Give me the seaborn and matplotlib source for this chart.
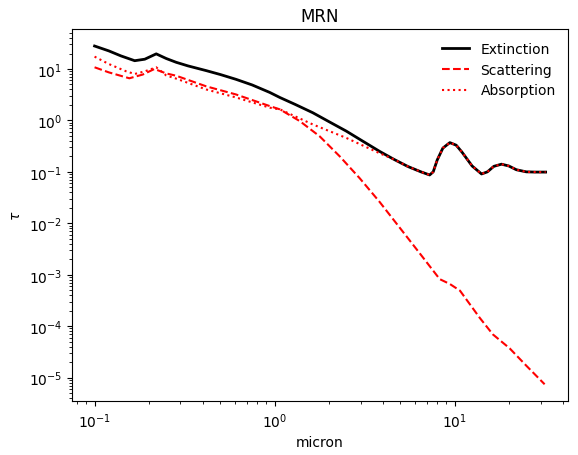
import numpy as np
import pandas as pd
import matplotlib
matplotlib.use("Agg")
import matplotlib.pyplot as plt
import seaborn as sns

# optical depth curves (micron vs tau)
ext_x = [0.1, 0.12, 0.14, 0.167, 0.19, 0.22, 0.25, 0.284, 0.33, 0.417, 0.5, 0.61, 0.75,
         0.94, 1.07, 1.3, 1.63, 2.0, 2.5, 3.0, 3.83, 4.6, 5.5, 6.5, 7.26, 7.6, 8.0, 8.6,
         9.4, 10.2, 11.0, 12.5, 14.1, 15.2, 16.5, 18.2, 20, 22, 25, 28, 32]
ext_y = [28, 22.5, 18, 14.5, 15.5, 19.7, 16, 13.5, 11.5, 9.3, 7.8, 6.3, 4.9,
         3.5, 2.79, 2.05, 1.41, 0.95, 0.62, 0.42, 0.25, 0.175, 0.127, 0.1, 0.087, 0.1, 0.17, 0.29,
         0.37, 0.33, 0.24, 0.13, 0.091, 0.1, 0.128, 0.141, 0.13, 0.11, 0.10, 0.099, 0.099]

sca_x = [0.1, 0.12, 0.156, 0.185, 0.215, 0.25, 0.284, 0.417, 0.61, 0.94, 1.07, 1.38,
         1.78, 2.3, 2.97, 3.83, 4.75, 6.4, 8.26, 9.4, 10.7, 13.8, 16.3, 20.2, 25, 31.6]
sca_y = [10.8, 8.6, 6.6, 7.8, 10, 8.2, 7.4, 4.6, 3.2, 1.9, 1.64, 0.97,
         0.49, 0.20, 0.075, 0.026, 0.0099, 0.0026, 8.2e-4, 6.6e-4, 4.9e-4, 1.44e-4, 6.9e-5, 3.7e-5, 1.7e-5, 7.4e-6]

abs_x = [0.1, 0.12, 0.15, 0.167, 0.19, 0.22, 0.25, 0.284, 0.417, 0.61, 0.94, 1.07, 1.63,
         2.5, 3.83, 4.6, 5.5, 6.5, 7.26, 7.6, 8.0, 8.6, 9.4, 10.2, 11.0, 12.5, 14.1, 15.2,
         16.5, 18.2, 20, 22, 25, 28, 32]
abs_y = [17.4, 12.5, 9, 8, 9, 10.8, 7.5, 6.5, 4.0, 2.8, 1.77, 1.64, 0.835,
         0.457, 0.23, 0.175, 0.127, 0.1, 0.087, 0.1, 0.17, 0.29, 0.37, 0.33, 0.24, 0.13, 0.091, 0.1,
         0.128, 0.141, 0.13, 0.11, 0.10, 0.099, 0.099]

fig = plt.figure(figsize=(5.78, 4.56), dpi=100)
ax = fig.add_axes([0.1246, 0.118, 0.8584, 0.816])

sns.lineplot(x=ext_x, y=ext_y, ax=ax, color='black', lw=2, label='Extinction')
sns.lineplot(x=sca_x, y=sca_y, ax=ax, color='red', lw=1.5, ls='--', label='Scattering')
sns.lineplot(x=abs_x, y=abs_y, ax=ax, color='red', lw=1.5, ls=':', label='Absorption')

ax.set_xscale('log')
ax.set_yscale('log')
ax.set_xlabel('micron')
ax.set_ylabel(r'$\tau$')
ax.set_title('MRN')
ax.legend(loc='upper right', frameon=False)

fig.savefig('out.png', dpi=100)
